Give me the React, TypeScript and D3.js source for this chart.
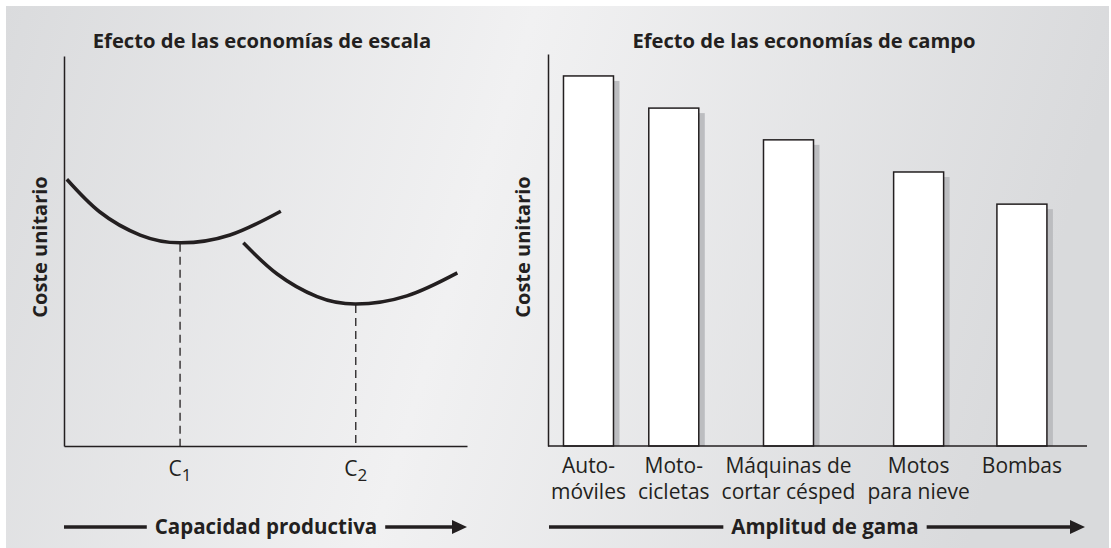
import React, {useEffect, useRef} from 'react';
import * as d3 from 'd3';

type Pt = {x: number, y: number};

// left panel, both axes 0-100: unit cost curves of a small and a large plant
const smallPlant: Array<Pt> = [
  {x: 0.7, y: 68.4}, {x: 8.9, y: 60.0}, {x: 18.9, y: 54.1},
  {x: 28.8, y: 52.1}, {x: 41.2, y: 54.1}, {x: 53.8, y: 60.2}
];
const largePlant: Array<Pt> = [
  {x: 44.5, y: 52.1}, {x: 52.9, y: 44.1}, {x: 62.8, y: 38.3},
  {x: 72.4, y: 36.4}, {x: 85.1, y: 38.5}, {x: 97.6, y: 44.4}
];
const capacities = ['1', '2'];

// right panel: unit cost by product (0-100)
const products = [
  ['Auto-', 'móviles'],
  ['Moto-', 'cicletas'],
  ['Máquinas de', 'cortar césped'],
  ['Motos', 'para nieve'],
  ['Bombas']
];
const unitCost = [94.4, 86.2, 78.1, 69.9, 61.7];

const titles = ['Efecto de las economías de escala', 'Efecto de las economías de campo'];
const yTitle = 'Coste unitario';
const xTitles = ['Capacidad productiva', 'Amplitud de gama'];

const INK = '#231f20';
const FONT = '"Open Sans", sans-serif';
const BASE = 446;

const drawArrow = (g: any, x0: number, x1: number, y: number, label: string, cx: number) => {
  const t = g.append('text')
    .attr('x', cx).attr('y', y + 7)
    .attr('text-anchor', 'middle')
    .attr('font-weight', 700).attr('font-size', 20.5)
    .attr('fill', INK)
    .text(label);
  const bb = (t.node() as SVGTextElement).getBBox();
  g.append('line')
    .attr('x1', x0).attr('x2', bb.x - 8).attr('y1', y).attr('y2', y)
    .attr('stroke', INK).attr('stroke-width', 3.5);
  g.append('line')
    .attr('x1', bb.x + bb.width + 8).attr('x2', x1 - 12).attr('y1', y).attr('y2', y)
    .attr('stroke', INK).attr('stroke-width', 3.5);
  g.append('path')
    .attr('d', `M${x1},${y}L${x1 - 15},${y - 7}L${x1 - 15},${y + 7}Z`)
    .attr('fill', INK);
};

const drawYTitle = (g: any, x: number, y: number) => {
  g.append('text')
    .attr('transform', `translate(${x},${y}) rotate(-90)`)
    .attr('text-anchor', 'middle')
    .attr('font-weight', 700).attr('font-size', 20)
    .attr('fill', INK)
    .text(yTitle);
};

const styleAxis = (sel: any) => sel.select('.domain').attr('stroke', INK).attr('stroke-width', 1.5);

export default function App() {
  const ref = useRef<SVGSVGElement>(null);

  useEffect(() => {
    const svg = d3.select(ref.current);
    svg.selectAll('*').remove();
    svg.attr('font-family', FONT);

    // background
    const grad = svg.append('defs').append('linearGradient')
      .attr('id', 'bg').attr('x1', 0).attr('x2', 1).attr('y1', 0).attr('y2', 0.15);
    grad.append('stop').attr('offset', '0%').attr('stop-color', '#dadbdd');
    grad.append('stop').attr('offset', '47%').attr('stop-color', '#f1f1f2');
    grad.append('stop').attr('offset', '100%').attr('stop-color', '#d9dadc');
    svg.append('rect')
      .attr('x', 6).attr('y', 6).attr('width', 1103).attr('height', 542)
      .attr('fill', 'url(#bg)');

    // ---------- left: economies of scale
    const xL = d3.scaleLinear().domain([0, 100]).range([64, 467]);
    const yL = d3.scaleLinear().domain([0, 100]).range([BASE, 56]);
    const gL = svg.append('g');

    gL.append('text')
      .attr('x', 262).attr('y', 48)
      .attr('text-anchor', 'middle')
      .attr('font-weight', 700).attr('font-size', 20.2)
      .attr('fill', INK)
      .text(titles[0]);

    gL.append('g').attr('transform', `translate(0,${BASE})`)
      .call(d3.axisBottom(xL).tickValues([]).tickSizeOuter(0))
      .call(styleAxis);
    gL.append('g').attr('transform', `translate(${xL.range()[0]},0)`)
      .call(d3.axisLeft(yL).tickValues([]).tickSizeOuter(0))
      .call(styleAxis);

    const curve = d3.line<Pt>()
      .x(d => xL(d.x))
      .y(d => yL(d.y))
      .curve(d3.curveNatural);

    [smallPlant, largePlant].forEach((pts, i) => {
      const low = d3.least(pts, d => d.y) as Pt;
      gL.append('line')
        .attr('x1', xL(low.x)).attr('x2', xL(low.x))
        .attr('y1', yL(low.y) + 1).attr('y2', BASE)
        .attr('stroke', INK).attr('stroke-width', 1.3)
        .attr('stroke-dasharray', '8,5');
      gL.append('path')
        .attr('d', curve(pts))
        .attr('fill', 'none')
        .attr('stroke', INK).attr('stroke-width', 3.5);
      const t = gL.append('text')
        .attr('x', xL(low.x)).attr('y', 476)
        .attr('text-anchor', 'middle')
        .attr('font-size', 21).attr('fill', INK);
      t.append('tspan').text('C');
      t.append('tspan').attr('dy', 5).attr('font-size', 17).text(capacities[i]);
    });

    drawYTitle(gL, 47, 247);
    drawArrow(gL, 64, 467, 527, xTitles[0], 266);

    // ---------- right: economies of scope
    const yR = d3.scaleLinear().domain([0, 100]).range([BASE, 54]);
    const gR = svg.append('g');
    const axisX = [548, 1087];

    gR.append('text')
      .attr('x', 804).attr('y', 48)
      .attr('text-anchor', 'middle')
      .attr('font-weight', 700).attr('font-size', 20.2)
      .attr('fill', INK)
      .text(titles[1]);

    // category labels first: their widths set the spacing of the bars
    const labels = gR.append('g')
      .attr('font-size', 21).attr('fill', INK)
      .selectAll('g').data(products).join('g');
    labels.selectAll('text').data(d => d).join('text')
      .attr('text-anchor', 'middle')
      .attr('y', (_d, i) => 473 + i * 26)
      .text(d => d);
    const widths = labels.nodes().map(n => (n as SVGGElement).getBBox().width);
    const left = 551, right = 1062;
    const gap = (right - left - d3.sum(widths)) / (widths.length - 1);
    let acc = left;
    const centers = widths.map(w => {
      const c = acc + w / 2;
      acc += w + gap;
      return c;
    });
    const keys = products.map(p => p.join(' '));
    const xR = d3.scaleOrdinal<string, number>().domain(keys).range(centers);
    labels.attr('transform', (_d, i) => `translate(${xR(keys[i])},0)`);

    const bw = 50;
    const bars = gR.append('g').selectAll('g').data(unitCost).join('g');
    bars.append('rect')
      .attr('x', (_d, i) => xR(keys[i]) - bw / 2 + 6)
      .attr('y', d => yR(d) + 5)
      .attr('width', bw)
      .attr('height', d => BASE - yR(d) - 5)
      .attr('fill', '#bcbdc0');
    bars.append('rect')
      .attr('x', (_d, i) => xR(keys[i]) - bw / 2)
      .attr('y', d => yR(d))
      .attr('width', bw)
      .attr('height', d => BASE - yR(d))
      .attr('fill', '#ffffff')
      .attr('stroke', INK).attr('stroke-width', 1.5);

    gR.append('line')
      .attr('x1', axisX[0]).attr('x2', axisX[1]).attr('y1', BASE).attr('y2', BASE)
      .attr('stroke', INK).attr('stroke-width', 1.5);
    gR.append('g').attr('transform', `translate(${axisX[0]},0)`)
      .call(d3.axisLeft(yR).tickValues([]).tickSizeOuter(0))
      .call(styleAxis);

    drawYTitle(gR, 530, 247);
    drawArrow(gR, 549, 1085, 527, xTitles[1], 825);
  }, []);

  return (
    <svg
      ref={ref}
      width={1111}
      height={548}
      style={{position: 'absolute', left: 0, top: 0, display: 'block'}}
    />
  );
}
